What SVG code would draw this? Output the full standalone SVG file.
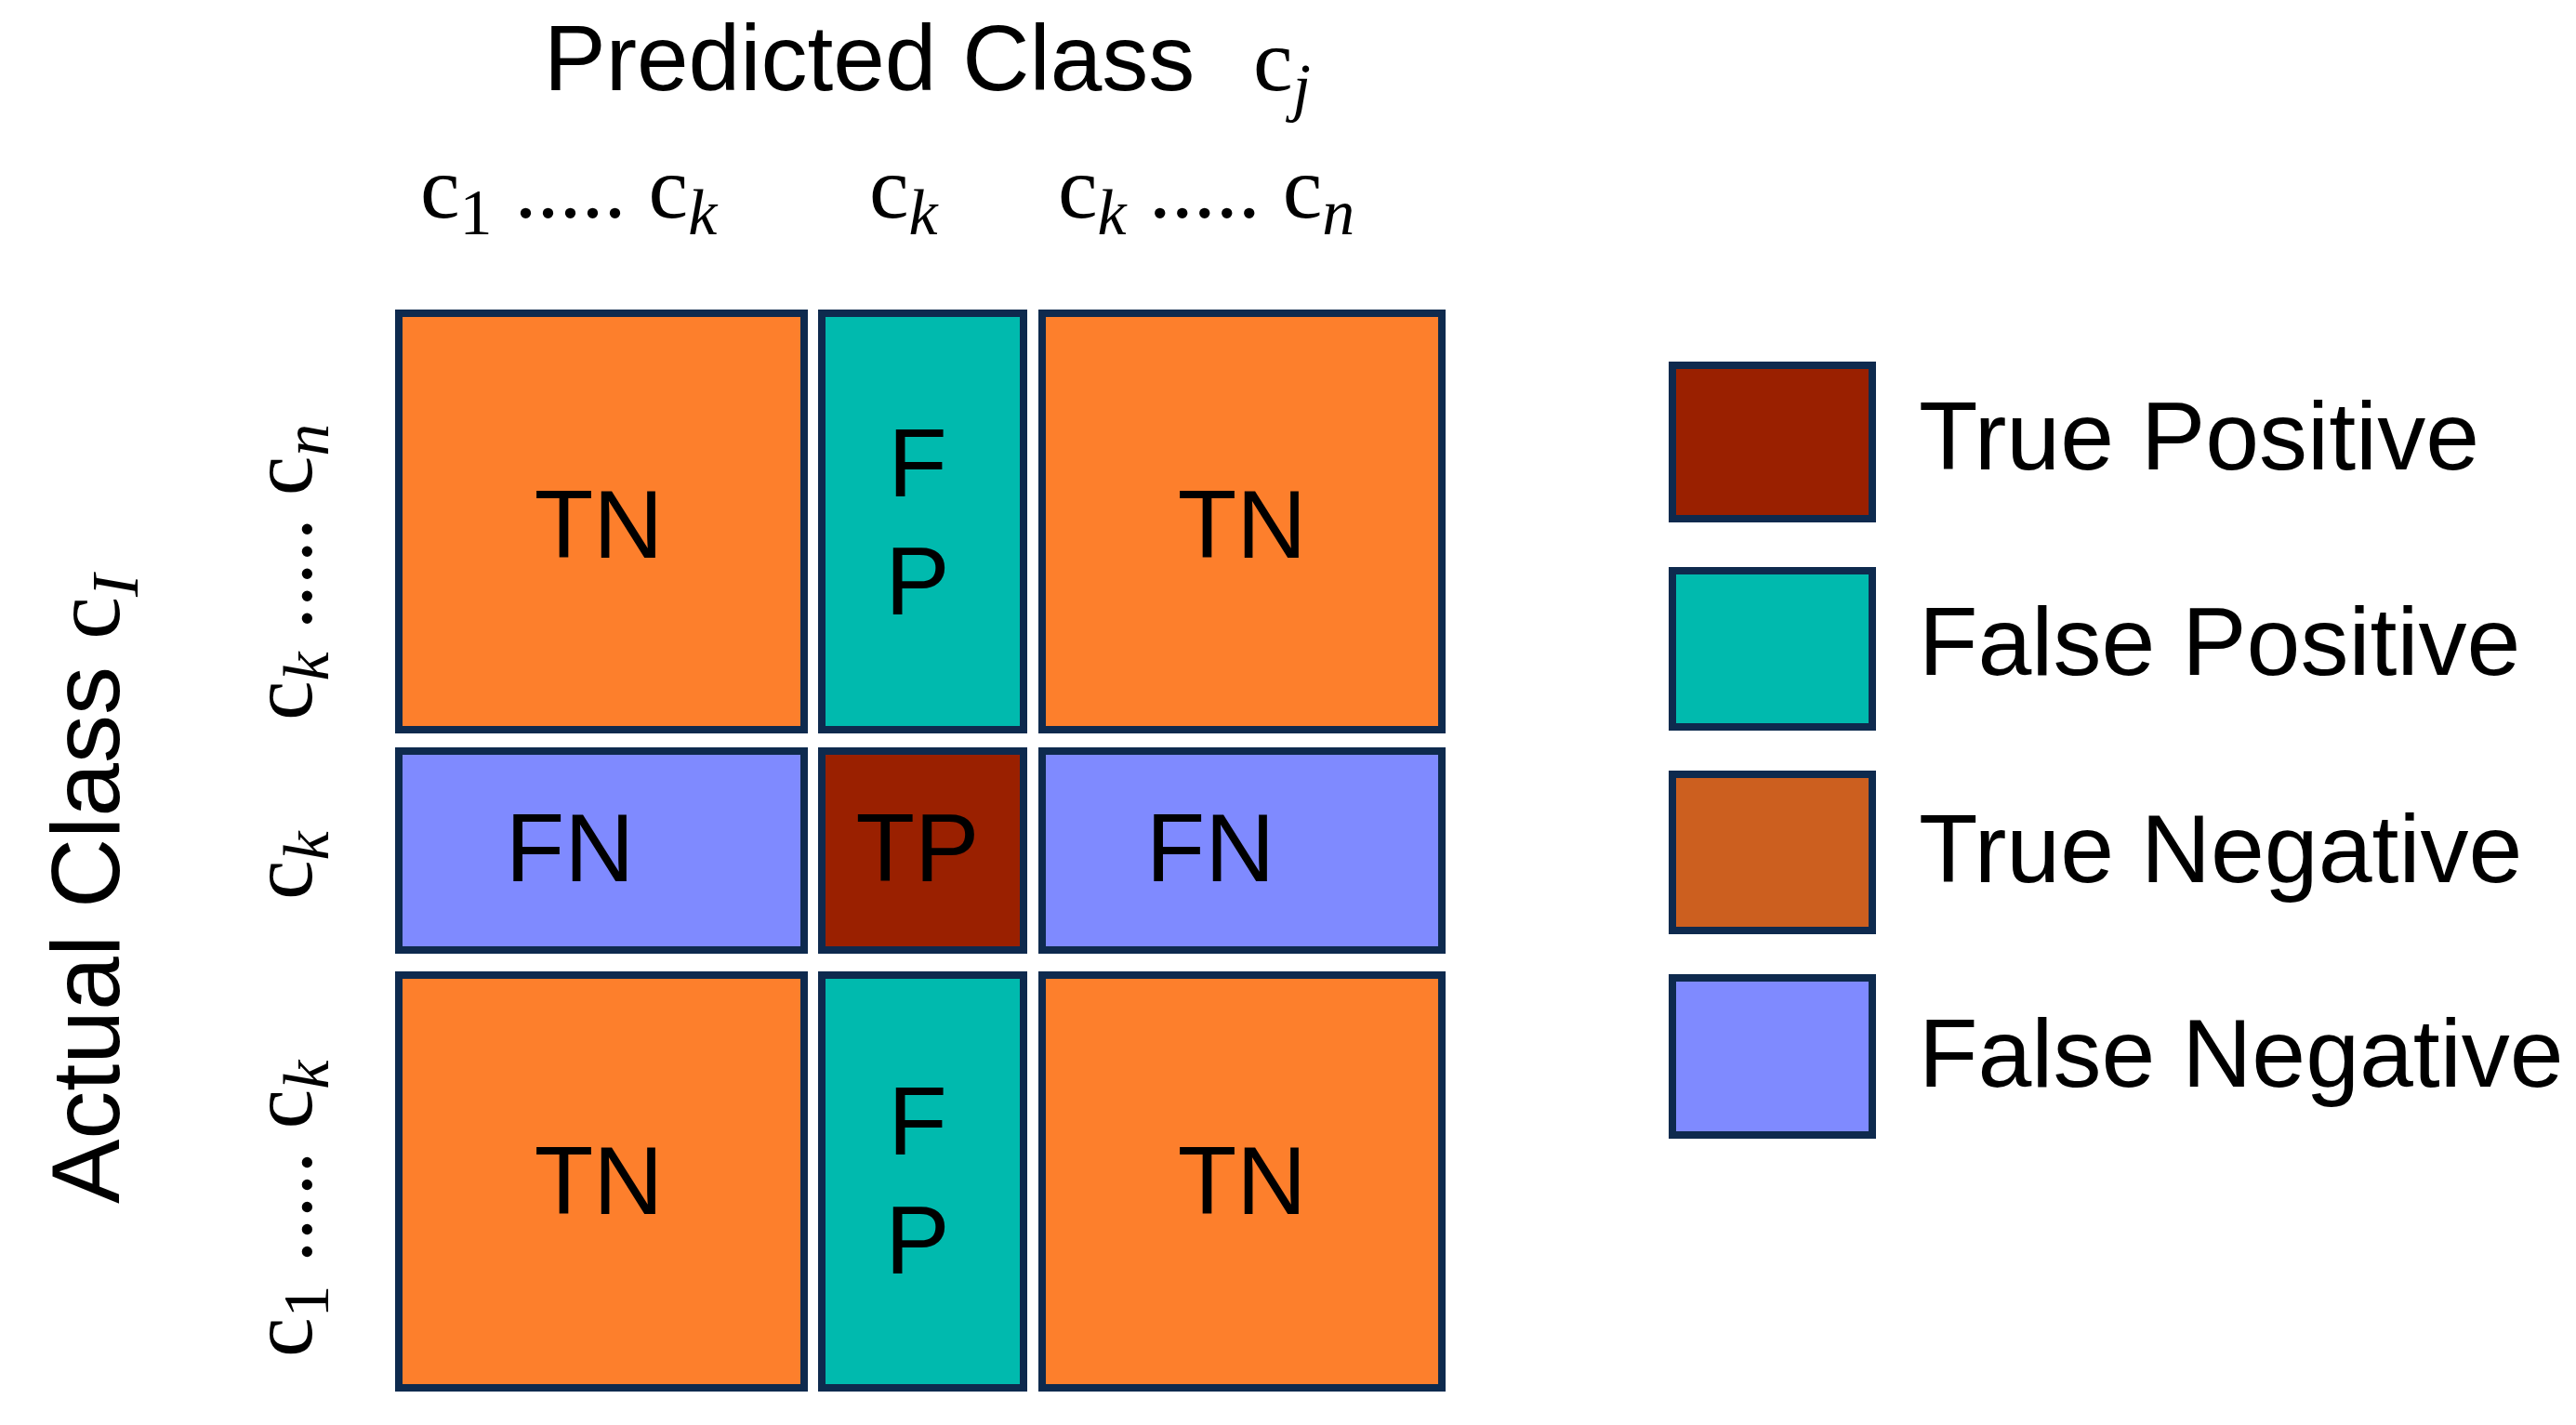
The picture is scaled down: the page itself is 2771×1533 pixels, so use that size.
<svg xmlns="http://www.w3.org/2000/svg" width="2771" height="1533" viewBox="0 0 2771 1533">
<style>
.c{stroke:#0E2A4E;stroke-width:8}
.or{fill:#FD7F2C}.te{fill:#00BAAE}.tp{fill:#9A2000}.fn{fill:#7F8AFF}.tn{fill:#CC5F1F}
.t{font-family:"Liberation Sans",Arial,sans-serif;fill:#000}
.m{font-family:"Liberation Serif","DejaVu Serif",serif;fill:#000;font-size:96px}
.i{font-style:italic}
</style>
<rect width="2771" height="1533" fill="#fff"/>
<g id="titles">
<text class="t" x="585" y="97" font-size="100">Predicted Class</text>
<text class="m" x="1348" y="97" font-size="100">c<tspan class="i" font-size="70" dy="20">j</tspan></text>
<text class="m" x="452" y="234">c<tspan font-size="70" dy="18">1</tspan><tspan dy="-18"> ..... c</tspan><tspan class="i" font-size="70" dy="18">k</tspan></text>
<text class="m" x="935" y="234">c<tspan class="i" font-size="70" dy="18">k</tspan></text>
<text class="m" x="1138" y="234">c<tspan class="i" font-size="70" dy="18">k</tspan><tspan dy="-18"> ..... c</tspan><tspan class="i" font-size="70" dy="18">n</tspan></text>
<text class="t" transform="translate(128 1295) rotate(-90)" font-size="104">Actual Class <tspan font-family="Liberation Serif,serif">c</tspan><tspan font-family="Liberation Serif,serif" class="i" font-size="72" dy="20">I</tspan></text>
<text class="m" transform="translate(335 775) rotate(-90)">c<tspan class="i" font-size="70" dy="18">k</tspan><tspan dy="-18"> ..... c</tspan><tspan class="i" font-size="70" dy="18">n</tspan></text>
<text class="m" transform="translate(335 968) rotate(-90)">c<tspan class="i" font-size="70" dy="18">k</tspan></text>
<text class="m" transform="translate(335 1460) rotate(-90)">c<tspan font-size="70" dy="18">1</tspan><tspan dy="-18"> ..... c</tspan><tspan class="i" font-size="70" dy="18">k</tspan></text>
</g>
<g id="cells" class="t" font-size="104" text-anchor="middle">
<g id="r1c1"><rect class="c or" x="429" y="337" width="436" height="448"/><text x="644" y="600">TN</text></g>
<g id="r1c2"><rect class="c te" x="884" y="337" width="217" height="448"/><text x="987" y="534">F</text><text x="987" y="661">P</text></g>
<g id="r1c3"><rect class="c or" x="1121" y="337" width="430" height="448"/><text x="1336" y="600">TN</text></g>
<g id="r2c1"><rect class="c fn" x="429" y="808" width="436" height="214"/><text x="613" y="948">FN</text></g>
<g id="r2c2"><rect class="c tp" x="884" y="808" width="217" height="214"/><text x="987" y="948">TP</text></g>
<g id="r2c3"><rect class="c fn" x="1121" y="808" width="430" height="214"/><text x="1302" y="948">FN</text></g>
<g id="r3c1"><rect class="c or" x="429" y="1049" width="436" height="444"/><text x="644" y="1306">TN</text></g>
<g id="r3c2"><rect class="c te" x="884" y="1049" width="217" height="444"/><text x="987" y="1242">F</text><text x="987" y="1370">P</text></g>
<g id="r3c3"><rect class="c or" x="1121" y="1049" width="430" height="444"/><text x="1336" y="1306">TN</text></g>
</g>
<g id="legend" class="t" font-size="104">
<g id="lg-tp"><rect class="c tp" x="1799" y="393" width="215" height="165"/><text x="2064" y="505">True Positive</text></g>
<g id="lg-fp"><rect class="c te" x="1799" y="614" width="215" height="168"/><text x="2064" y="726">False Positive</text></g>
<g id="lg-tn"><rect class="c tn" x="1799" y="833" width="215" height="168"/><text x="2064" y="949">True Negative</text></g>
<g id="lg-fn"><rect class="c fn" x="1799" y="1052" width="215" height="169"/><text x="2064" y="1169">False Negative</text></g>
</g>
<g id="connectors"/>
</svg>
